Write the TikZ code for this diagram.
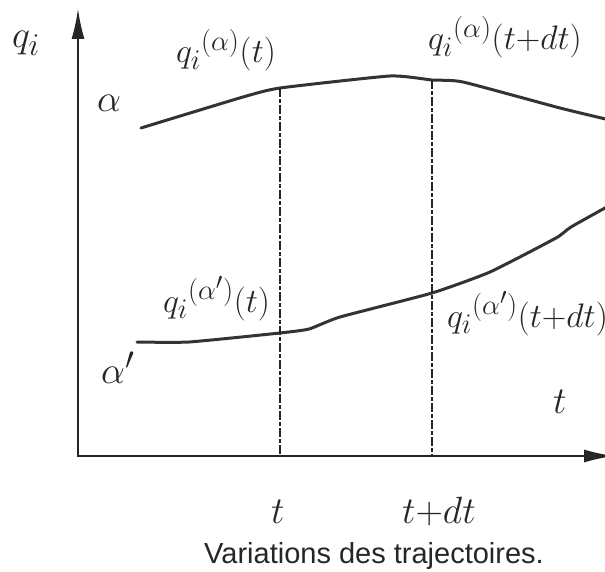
\documentclass[tikz,border=0pt]{standalone}
\usepackage{graphicx}
\usepackage{fontspec}
\newfontfamily\capfont{Liberation Sans}
\usetikzlibrary{arrows.meta}
\newcommand{\lblbig}[1]{\scalebox{1.527}{\fontsize{24.88}{28}\selectfont #1}}
\newcommand{\lblmid}[1]{\scalebox{1.367}{\fontsize{24.88}{28}\selectfont #1}}
\tikzset{
  axisline/.style={line width=1.6pt, draw=black!85, -{Latex[length=30pt,width=13pt]}},
  traj/.style={line width=3pt, draw=black!80, line cap=round, smooth, tension=0.3},
  guide/.style={line width=1.1pt, draw=black!85, dash pattern=on 9pt off 2pt on 4pt off 2pt},
  lbl/.style={inner sep=0pt, anchor=base west, text=black!85},
}
\begin{document}
\begin{tikzpicture}[x=1pt,y=-1pt]
\useasboundingbox (0,0) rectangle (605,572);
% axes
\coordinate (O) at (78,457);
\coordinate (ytip) at (78,9);
\coordinate (xorig) at (78,456);
\coordinate (xtip) at (614,456);
\draw[axisline] (O) -- (ytip);
\draw[axisline] (xorig) -- (xtip);
% trajectory alpha
\coordinate (a1) at (141,128);
\coordinate (a2) at (243,97);
\coordinate (at) at (280,88);
\coordinate (a4) at (390,76);
\coordinate (atd) at (432,80);
\coordinate (a6) at (463,82);
\coordinate (a7) at (560,108);
\coordinate (a8) at (614,121);
\draw[traj] plot coordinates {(a1) (a2) (at) (a4) (atd) (a6) (a7) (a8)};
% trajectory alpha'
\coordinate (b1) at (137,342);
\coordinate (b2) at (189,342);
\coordinate (bt) at (280,333);
\coordinate (b4) at (309,329);
\coordinate (b5) at (340,317);
\coordinate (btd) at (432,293);
\coordinate (b7) at (490,272);
\coordinate (b8) at (556,238);
\coordinate (b9) at (571,227);
\coordinate (b10) at (614,203);
\draw[traj] plot coordinates {(b1) (b2) (bt) (b4) (b5) (btd) (b7) (b8) (b9) (b10)};
% guides
\draw[guide] (at) -- (at |- O);
\draw[guide] (atd) -- (atd |- O);
% labels
\node[lbl] (qi) at (12,48) {\lblbig{$q_i$}};
\node[lbl] (alab) at (97,112) {\lblbig{$\alpha$}};
\node[lbl] (aplab) at (101,383) {\lblbig{$\alpha'$}};
\node[lbl] (qat) at (176,63) {\lblmid{$q_i{}^{(\alpha)}(t)$}};
\node[lbl] (qatd) at (428,50) {\lblmid{$q_i{}^{(\alpha)}(t{+}dt)$}};
\node[lbl] (qbt) at (163,312) {\lblmid{$q_i{}^{(\alpha')}(t)$}};
\node[lbl] (qbtd) at (447,327) {\lblmid{$q_i{}^{(\alpha')}(t{+}dt)$}};
\node[lbl] (taxis) at (553,413) {\lblbig{$t$}};
\node[lbl] (tlab) at (271,523) {\lblbig{$t$}};
\node[lbl] (tdlab) at (402,523) {\lblbig{$t{+}dt$}};
\node[inner sep=0pt, anchor=base, text=black!85, font=\capfont\fontsize{29}{31}\selectfont] (cap) at (374,563) {Variations des trajectoires.};
\end{tikzpicture}
\end{document}
